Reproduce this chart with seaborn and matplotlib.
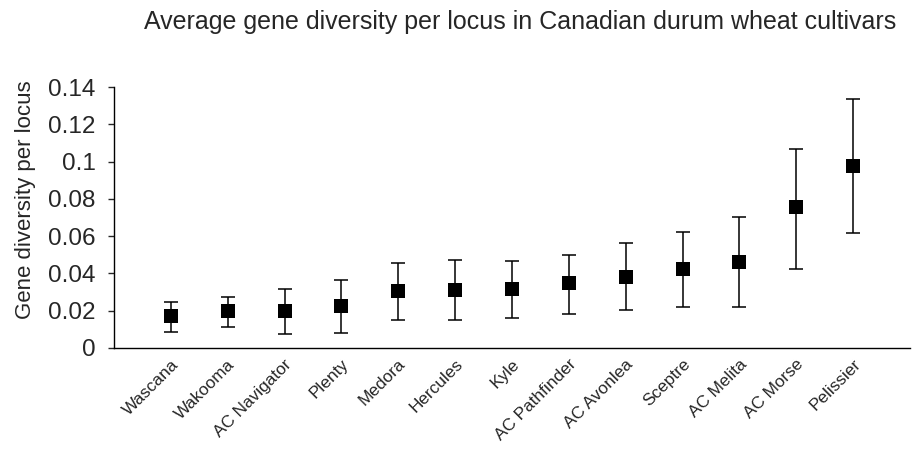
import matplotlib
matplotlib.use("Agg")
import matplotlib.pyplot as plt
import matplotlib.transforms as mtransforms
import seaborn as sns
import numpy as np
import pandas as pd

cultivars = ["Wascana", "Wakooma", "AC Navigator", "Plenty", "Medora", "Hercules",
             "Kyle", "AC Pathfinder", "AC Avonlea", "Sceptre", "AC Melita",
             "AC Morse", "Pelissier"]
diversity = [0.0172, 0.0200, 0.0200, 0.0225, 0.0307, 0.0313, 0.0315, 0.0347,
             0.0381, 0.0422, 0.0463, 0.0755, 0.0976]
upper = [0.0248, 0.0275, 0.0315, 0.0365, 0.0454, 0.0472, 0.0467, 0.0500,
         0.0562, 0.0622, 0.0704, 0.1068, 0.1336]
lower = [0.0087, 0.0114, 0.0073, 0.0082, 0.0150, 0.0150, 0.0163, 0.0182,
         0.0204, 0.0222, 0.0222, 0.0426, 0.0615]
yticks = [0, 0.02, 0.04, 0.06, 0.08, 0.1, 0.12, 0.14]
ytick_labels = ["0", "0.02", "0.04", "0.06", "0.08", "0.1", "0.12", "0.14"]

df = pd.DataFrame({"cultivar": cultivars, "diversity": diversity,
                   "upper": upper, "lower": lower})

sns.set_theme(style="ticks")
plt.rcParams["font.family"] = ["Liberation Sans", "DejaVu Sans"]

fig = plt.figure(figsize=(9.17, 4.49), dpi=100)
ax = fig.add_axes([114/917, 1-348/449, (910-114)/917, (348-87)/449])

pos = np.arange(len(cultivars))
yerr = np.array([df["diversity"] - df["lower"], df["upper"] - df["diversity"]])
ax.errorbar(pos, df["diversity"], yerr=yerr, fmt="none", ecolor="black",
            elinewidth=1.1, capsize=5, capthick=1.1, zorder=2)
sns.scatterplot(x=pos, y=df["diversity"], marker="s", color="black", s=90,
                edgecolor="black", linewidth=0, ax=ax, zorder=3)

ax.set_xlim(-1, len(cultivars))
ax.set_ylim(0, 0.14)
ax.set_xticks(pos)
ax.set_xticklabels(cultivars, rotation=45, ha="right", va="center",
                   rotation_mode="anchor", fontsize=12.4)
ax.tick_params(axis="x", length=0, pad=10)
offset = mtransforms.ScaledTranslation(5/100, 0, fig.dpi_scale_trans)
for lab in ax.get_xticklabels():
    lab.set_transform(lab.get_transform() + offset)
ax.set_yticks(yticks)
ax.set_yticklabels(ytick_labels, fontsize=17.5)
ax.tick_params(axis="y", length=4.3, width=1, direction="out", pad=9)
ax.set_ylabel("Gene diversity per locus", fontsize=16)
ax.yaxis.set_label_coords((36-114)/796, (348-200)/261)
ax.set_xlabel("")
for s in ["top", "right"]:
    ax.spines[s].set_visible(False)
for s in ["left", "bottom"]:
    ax.spines[s].set_color("black")
    ax.spines[s].set_linewidth(1)

fig.text(520/917, 1-22/449, "Average gene diversity per locus in Canadian durum wheat cultivars",
         ha="center", va="center", fontsize=18)

fig.savefig("out.png", dpi=100)
